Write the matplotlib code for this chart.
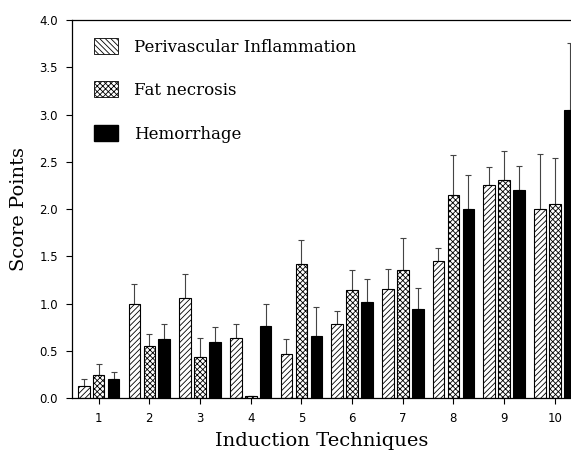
import matplotlib
matplotlib.use("Agg")
import matplotlib.pyplot as plt
import numpy as np
from matplotlib.patches import Patch

techniques = [1, 2, 3, 4, 5, 6, 7, 8, 9, 10]
perivascular = [0.13, 1.00, 1.06, 0.64, 0.47, 0.78, 1.15, 1.45, 2.25, 2.00]
perivascular_top = [0.20, 1.21, 1.31, 0.78, 0.62, 0.92, 1.37, 1.59, 2.45, 2.58]
fat_necrosis = [0.24, 0.55, 0.43, 0.02, 1.42, 1.14, 1.35, 2.15, 2.31, 2.05]
fat_necrosis_top = [0.36, 0.68, 0.63, 0.02, 1.67, 1.35, 1.69, 2.57, 2.62, 2.54]
hemorrhage = [0.20, 0.62, 0.59, 0.76, 0.66, 1.02, 0.94, 2.00, 2.20, 3.05]
hemorrhage_top = [0.28, 0.78, 0.75, 1.00, 0.96, 1.26, 1.16, 2.36, 2.46, 3.76]
yticks = [0.0, 0.5, 1.0, 1.5, 2.0, 2.5, 3.0, 3.5, 4.0]

plt.rcParams['hatch.linewidth'] = 0.6
fig = plt.figure(figsize=(5.71, 4.59), dpi=100)
ax = fig.add_axes([0.126, 0.133, 0.874, 0.823])

x = np.array(techniques, dtype=float)
w = 0.23
off = 0.295
series = [
    (perivascular, perivascular_top, dict(facecolor='white', hatch='//////'), -off),
    (fat_necrosis, fat_necrosis_top, dict(facecolor='white', hatch='xxxxxx'), 0.0),
    (hemorrhage, hemorrhage_top, dict(facecolor='black'), off),
]
for vals, tops, style, o in series:
    vals = np.array(vals); tops = np.array(tops)
    err = np.vstack([np.zeros_like(vals), tops - vals])
    ax.errorbar(x + o, vals, yerr=err, fmt='none', ecolor='#444444',
                elinewidth=0.8, capsize=2.5, capthick=0.8, zorder=1)
    ax.bar(x + o, vals, width=w, edgecolor='black', linewidth=0.8, zorder=2, **style)

ax.set_xlim(0.473, 10.32)
ax.set_ylim(0, 4.0)
ax.set_yticks(yticks)
ax.set_yticklabels([f"{t:.1f}" for t in yticks], fontsize=8.5)
ax.set_xticks(techniques)
ax.set_xticklabels([str(t) for t in techniques], fontsize=8.5)
ax.tick_params(direction='out', length=4, width=0.8)
ax.tick_params(axis='x', pad=6)
ax.tick_params(axis='y', pad=6)
ax.spines['right'].set_visible(False)
for s in ['left', 'bottom', 'top']:
    ax.spines[s].set_linewidth(0.9)

ax.set_ylabel('Score Points', family='DejaVu Serif', fontsize=14, labelpad=8)
ax.set_xlabel('Induction Techniques', family='DejaVu Serif', fontsize=14, labelpad=5)

handles = [
    Patch(facecolor='white', edgecolor='black', hatch='\\\\\\\\\\\\', linewidth=0.6),
    Patch(facecolor='white', edgecolor='black', hatch='xxxxxx', linewidth=0.6),
    Patch(facecolor='black', edgecolor='black'),
]
ax.legend(handles, ['Perivascular Inflammation', 'Fat necrosis', 'Hemorrhage'],
          loc='upper left', bbox_to_anchor=(0.015, 0.993), frameon=False,
          prop={'family': 'DejaVu Serif', 'size': 12},
          handlelength=1.4, handleheight=1.1, labelspacing=1.55, handletextpad=1.0)

fig.savefig('out.png', dpi=100)
